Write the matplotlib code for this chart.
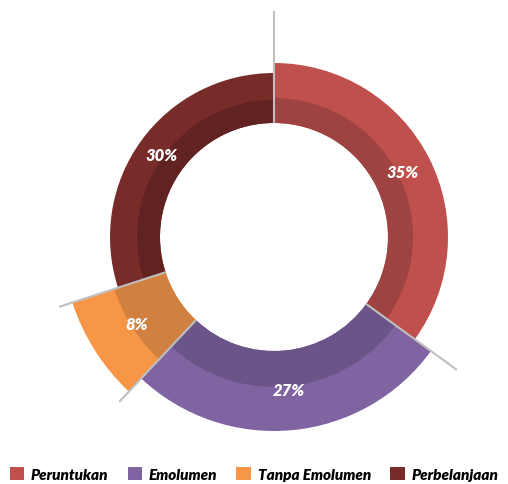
import matplotlib
matplotlib.use("Agg")
import matplotlib.pyplot as plt
from matplotlib.patches import Wedge, Patch
import numpy as np

# data
labels = ["Peruntukan", "Emolumen", "Tanpa Emolumen", "Perbelanjaan"]
shares = [35, 27, 8, 30]

# styling (pixels)
colors = ["#C0504D", "#8064A2", "#F79646", "#772C2A"]
inner_colors = ["#9E4341", "#6B5588", "#D08140", "#612321"]
outer_r = [174, 194, 212, 164]
band_r = [139, 150, 168, 137]
hole_r = 114
cx, cy = 274, 247

plt.rcParams["font.family"] = ["Lato", "DejaVu Sans"]

fig = plt.figure(figsize=(5.08, 4.85), dpi=100)
ax = fig.add_axes([0, 0, 1, 1])
ax.set_xlim(0, 508)
ax.set_ylim(0, 485)
ax.set_aspect("equal")
ax.axis("off")

# clockwise from the top
start = 90.0
for i, s in enumerate(shares):
    sweep = s / 100 * 360
    t1, t2 = start - sweep, start
    ax.add_patch(Wedge((cx, cy), outer_r[i], t1, t2, width=outer_r[i] - hole_r,
                       facecolor=colors[i], edgecolor="none"))
    ax.add_patch(Wedge((cx, cy), band_r[i], t1, t2, width=band_r[i] - hole_r,
                       facecolor=inner_colors[i], edgecolor="none"))
    mid = np.deg2rad((t1 + t2) / 2)
    lr = (outer_r[i] + hole_r) / 2
    ax.text(cx + lr * np.cos(mid), cy + lr * np.sin(mid), f"{s}%",
            color="white", fontsize=12, fontweight="heavy", fontstyle="italic",
            ha="center", va="center")
    # leader line at the slice start
    a = np.deg2rad(start)
    ax.plot([cx + hole_r * np.cos(a), cx + 226 * np.cos(a)],
            [cy + hole_r * np.sin(a), cy + 226 * np.sin(a)],
            color="#BFBFBF", lw=1.5, solid_capstyle="butt")
    start = t1

handles = [Patch(facecolor=c, edgecolor="none") for c in colors]
ax.legend(handles, labels, ncol=4, loc="lower center", bbox_to_anchor=(0.5, -0.012),
          frameon=False, handlelength=0.95, handleheight=0.95, handletextpad=0.45,
          columnspacing=1.25, borderaxespad=0.2,
          prop={"size": 11, "weight": "heavy", "style": "italic"})

fig.savefig("out.png", dpi=100)
